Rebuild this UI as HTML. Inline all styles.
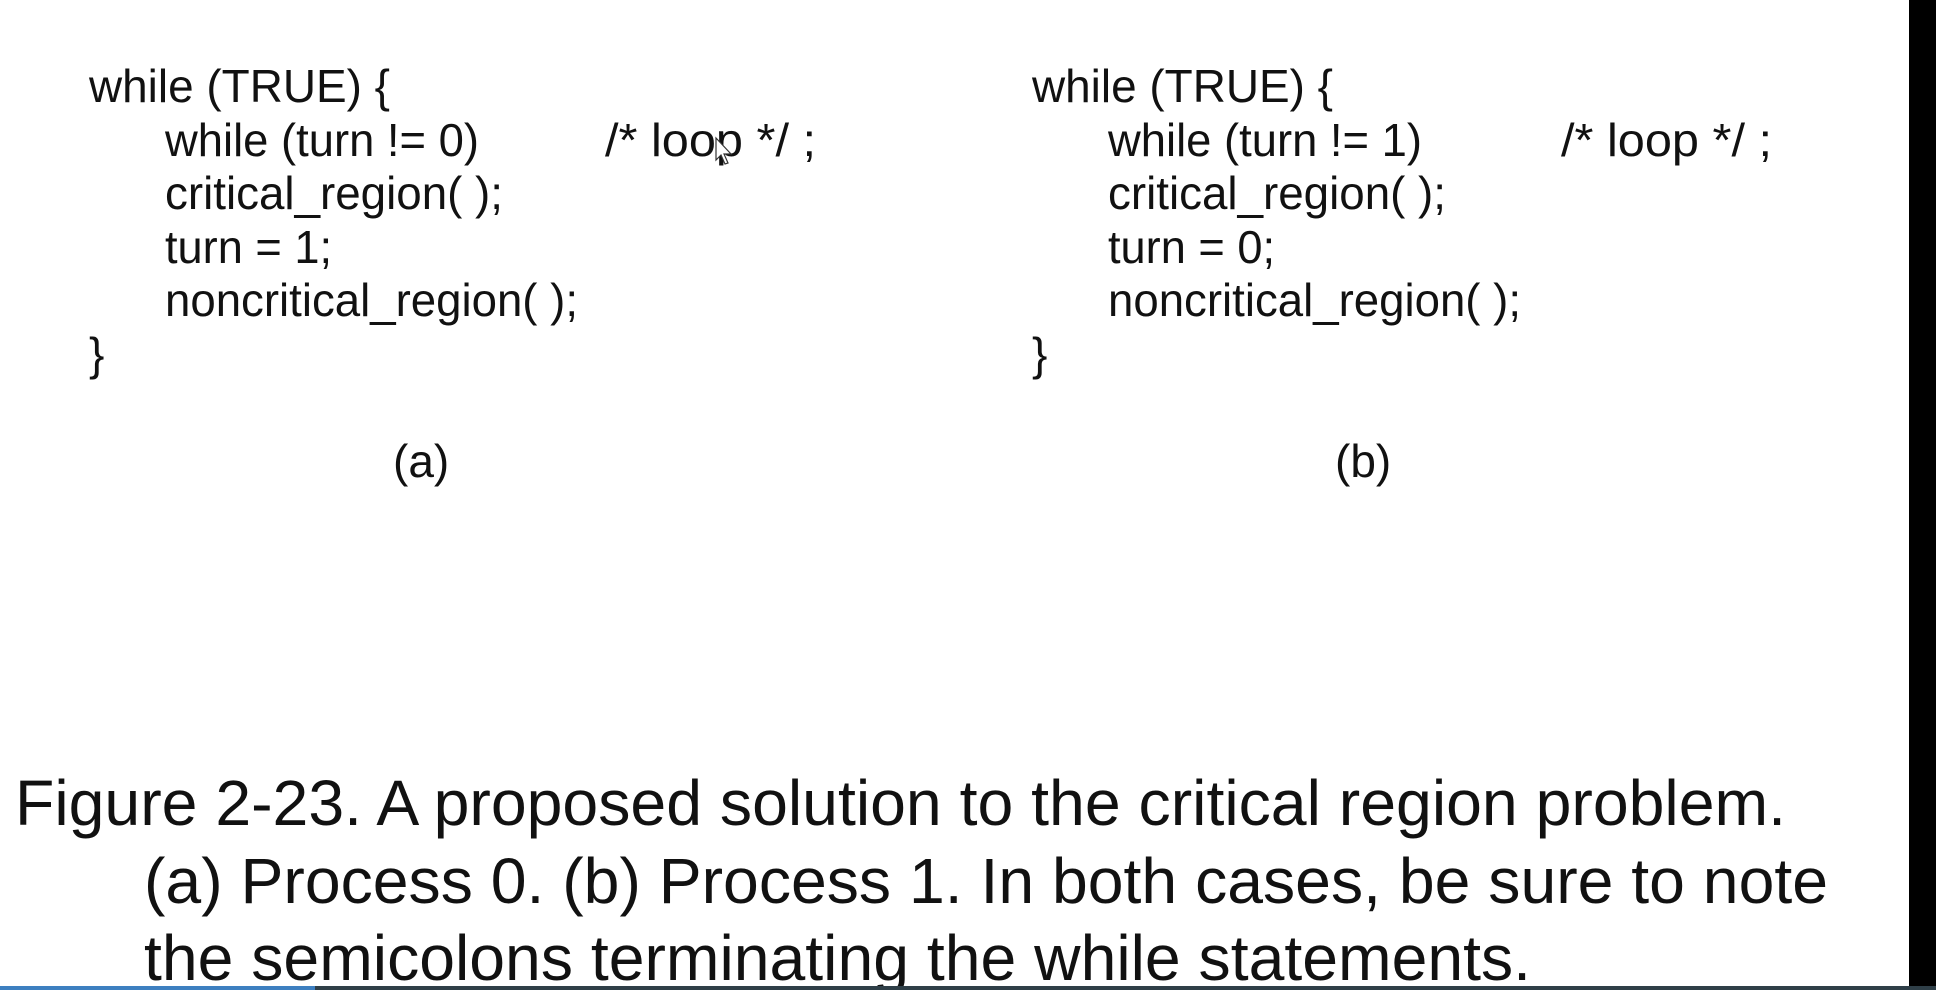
<!DOCTYPE html>
<html><head><meta charset="utf-8"><style>
html,body{margin:0;padding:0;background:#fff;}
svg{display:block;}
text{font-family:"Liberation Sans",Arial,sans-serif;fill:#111;}
</style></head><body>
<svg width="1936" height="990" viewBox="0 0 1936 990" xmlns="http://www.w3.org/2000/svg">
<rect width="1936" height="990" fill="#fff"/>
<g font-size="46">
<text x="89" y="102" textLength="301" lengthAdjust="spacingAndGlyphs">while (TRUE) {</text>
<text x="165" y="156" textLength="314" lengthAdjust="spacingAndGlyphs">while (turn != 0)</text>
<text x="605" y="156" textLength="211" lengthAdjust="spacingAndGlyphs">/* loop */ ;</text>
<text x="165" y="209" textLength="338" lengthAdjust="spacingAndGlyphs">critical_region( );</text>
<text x="165" y="263" textLength="167" lengthAdjust="spacingAndGlyphs">turn = 1;</text>
<text x="165" y="316" textLength="413" lengthAdjust="spacingAndGlyphs">noncritical_region( );</text>
<text x="89" y="370">}</text>
<text x="393" y="477">(a)</text>

<text x="1032" y="102" textLength="301" lengthAdjust="spacingAndGlyphs">while (TRUE) {</text>
<text x="1108" y="156" textLength="314" lengthAdjust="spacingAndGlyphs">while (turn != 1)</text>
<text x="1561" y="156" textLength="211" lengthAdjust="spacingAndGlyphs">/* loop */ ;</text>
<text x="1108" y="209" textLength="338" lengthAdjust="spacingAndGlyphs">critical_region( );</text>
<text x="1108" y="263" textLength="167" lengthAdjust="spacingAndGlyphs">turn = 0;</text>
<text x="1108" y="316" textLength="413" lengthAdjust="spacingAndGlyphs">noncritical_region( );</text>
<text x="1032" y="370">}</text>
<text x="1335" y="477">(b)</text>
</g>
<path d="M716 138 L716 160 L721 155 L725 164 L728 163 L724 154 L731 154 Z" fill="#fff" stroke="#333" stroke-width="1.2"/>
<g font-size="64">
<text x="15" y="825" textLength="1771" lengthAdjust="spacingAndGlyphs">Figure 2-23. A proposed solution to the critical region problem.</text>
<text x="144" y="903" textLength="1684" lengthAdjust="spacingAndGlyphs">(a) Process 0. (b) Process 1. In both cases, be sure to note</text>
<text x="144" y="980" textLength="1387" lengthAdjust="spacingAndGlyphs">the semicolons terminating the while statements.</text>
</g>
<rect x="1909" y="0" width="27" height="990" fill="#000"/>
<rect x="0" y="986" width="1936" height="4" fill="#2f3f48"/>
<rect x="0" y="986" width="315" height="4" fill="#3d7fc0"/>
</svg>
</body></html>
